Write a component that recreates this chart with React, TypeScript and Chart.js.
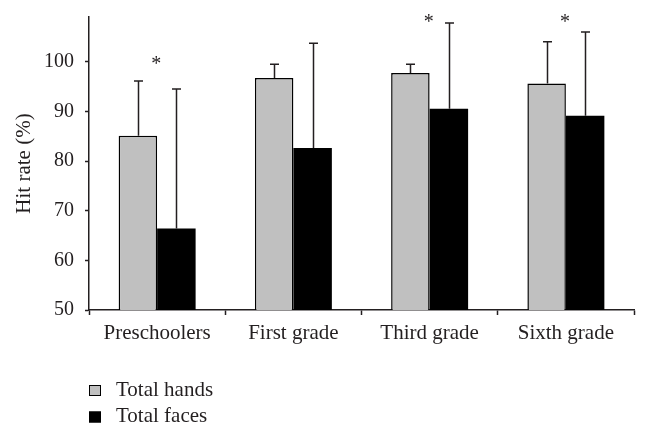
import React, { useEffect, useRef } from "react";
import { Chart, registerables } from "chart.js";

Chart.register(...registerables);

const categories = ["Preschoolers", "First grade", "Third grade", "Sixth grade"];
const handsValues = [85.1, 96.7, 97.7, 95.6];
const handsSD = [11.0, 2.8, 1.8, 8.4];
const facesValues = [66.4, 82.6, 90.5, 89.1];
const facesSD = [28.1, 21.1, 17.3, 16.9];
const asteriskLevels: (number | null)[] = [100.4, null, 108.7, 108.7];
const yTicks = [50, 60, 70, 80, 90, 100];
const yMin = 50;
const yMax = 109;
const seriesLabels = ["Total hands", "Total faces"];

const FONT = "'Liberation Serif', 'Times New Roman', serif";
const INK = "#231f20";
const GRAY = "#c0c0c0";

const errorBarPlugin = {
  id: "errorBars",
  afterDatasetsDraw(chart: any) {
    const { ctx } = chart;
    const y = chart.scales.y;
    const sds = [handsSD, facesSD];
    ctx.save();
    ctx.strokeStyle = INK;
    ctx.lineWidth = 1.5;
    chart.data.datasets.forEach((ds: any, i: number) => {
      const meta = chart.getDatasetMeta(i);
      meta.data.forEach((bar: any, j: number) => {
        const v = ds.data[j];
        const top = y.getPixelForValue(v + sds[i][j]);
        const x = Math.round(bar.x) + 0.5;
        ctx.beginPath();
        ctx.moveTo(x, bar.y);
        ctx.lineTo(x, top);
        ctx.moveTo(x - 4.5, top);
        ctx.lineTo(x + 4.5, top);
        ctx.stroke();
      });
    });
    // asterisks
    ctx.fillStyle = INK;
    ctx.font = `20px ${FONT}`;
    ctx.textAlign = "center";
    ctx.textBaseline = "alphabetic";
    const xs = chart.scales.x;
    asteriskLevels.forEach((lvl, i) => {
      if (lvl == null) return;
      const m = ctx.measureText("*");
      const cy = y.getPixelForValue(lvl);
      const off = (m.actualBoundingBoxAscent - m.actualBoundingBoxDescent) / 2;
      ctx.fillText("*", xs.getPixelForValue(i) - 1, cy + off);
    });
    ctx.restore();
  },
};

const legendPlugin = {
  id: "customLegend",
  afterDraw(chart: any) {
    const { ctx } = chart;
    const left = chart.chartArea.left;
    ctx.save();
    ctx.font = `21px ${FONT}`;
    ctx.textAlign = "left";
    ctx.textBaseline = "middle";
    chart.data.datasets.forEach((ds: any, i: number) => {
      const boxY = 385 + i * 26.5;
      ctx.fillStyle = ds.backgroundColor;
      ctx.fillRect(left, boxY, 12, 11);
      ctx.strokeStyle = "#000";
      ctx.lineWidth = 1;
      ctx.strokeRect(left + 0.5, boxY + 0.5, 11, 10);
      ctx.fillStyle = INK;
      ctx.fillText(ds.label, left + 27, boxY + 5);
    });
    ctx.restore();
  },
};

export default function App() {
  const ref = useRef<HTMLCanvasElement>(null);
  useEffect(() => {
    if (!ref.current) return;
    const chart = new Chart(ref.current, {
      type: "bar",
      data: {
        labels: categories,
        datasets: [
          {
            label: seriesLabels[0],
            data: handsValues,
            backgroundColor: GRAY,
            borderColor: "#000",
            borderWidth: 1.5,
            categoryPercentage: 0.565,
            barPercentage: 1.0,
          },
          {
            label: seriesLabels[1],
            data: facesValues,
            backgroundColor: "#000",
            borderColor: "#000",
            borderWidth: 0,
            categoryPercentage: 0.565,
            barPercentage: 1.0,
          },
        ],
      },
      options: {
        responsive: false,
        animation: false,
        events: [],
        layout: { padding: { left: 0, right: 14, top: 17, bottom: 0 } },
        plugins: {
          legend: { display: false },
          tooltip: { enabled: false },
        },
        scales: {
          x: {
            grid: {
              drawOnChartArea: false,
              drawTicks: true,
              tickLength: 5,
              tickWidth: 1.5,
              tickColor: INK,
              offset: true,
            },
            border: { color: INK, width: 1.5 },
            ticks: {
              color: INK,
              font: { family: FONT, size: 21 },
              padding: 6,
              maxRotation: 0,
            },
            afterFit(scale: any) {
              scale.height = 128;
              scale.paddingLeft = 0;
              scale.paddingRight = 0;
            },
          },
          y: {
            min: yMin,
            max: yMax,
            grid: {
              drawOnChartArea: false,
              drawTicks: true,
              tickLength: 4,
              tickWidth: 1.5,
              tickColor: INK,
            },
            border: { color: INK, width: 1.5 },
            ticks: {
              color: INK,
              font: { family: FONT, size: 20 },
              padding: 11,
            },
            afterBuildTicks(scale: any) {
              scale.ticks = yTicks.map((v) => ({ value: v }));
            },
            title: {
              display: true,
              text: "Hit rate (%)",
              color: INK,
              font: { family: FONT, size: 21 },
              padding: { top: 12, bottom: 0 },
            },
            afterFit(scale: any) {
              scale.width = 89;
              scale.paddingTop = 0;
              scale.paddingBottom = 0;
            },
          },
        },
      },
      plugins: [errorBarPlugin, legendPlugin],
    });
    return () => chart.destroy();
  }, []);
  return (
    <div style={{ position: "fixed", left: 0, top: 0, width: 648, height: 438, background: "#fff" }}>
      <canvas ref={ref} width={648} height={438} style={{ display: "block" }} />
    </div>
  );
}
